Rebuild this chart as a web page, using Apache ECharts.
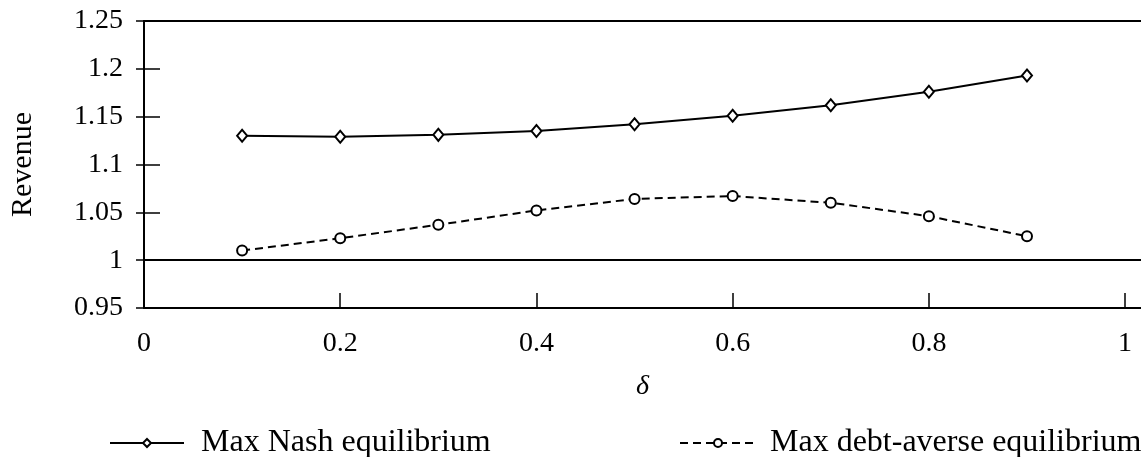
<!DOCTYPE html>
<html>
<head>
<meta charset="utf-8">
<script src="https://cdn.jsdelivr.net/npm/echarts@6/dist/echarts.min.js"></script>
<style>
html,body{margin:0;padding:0;background:#fff;}
#chart{width:1141px;height:457px;}
</style>
</head>
<body>
<div id="chart"></div>
<script>
const deltas = [0.1, 0.2, 0.3, 0.4, 0.5, 0.6, 0.7, 0.8, 0.9];
const nashRevenue = [1.130, 1.129, 1.131, 1.135, 1.142, 1.151, 1.162, 1.176, 1.193];
const debtAverseRevenue = [1.010, 1.023, 1.037, 1.052, 1.064, 1.067, 1.060, 1.046, 1.025];
const seriesNames = ['Max Nash equilibrium', 'Max debt-averse equilibrium'];
const referenceLevel = 1;

const FONT = 'Liberation Serif';
const chart = echarts.init(document.getElementById('chart'), null, {renderer: 'canvas'});

function pairs(xs, ys) { return xs.map((x, i) => [x, ys[i]]); }
function fmt(v) { return String(parseFloat(Number(v).toFixed(3))); }

const X_MAX = 1.0162;

chart.setOption({
  animation: false,
  backgroundColor: '#fff',
  grid: {left: 140, right: 0, top: 21, bottom: 149, containLabel: false},
  xAxis: [{
    type: 'value', min: 0, max: X_MAX, interval: 0.2, position: 'bottom',
    name: 'δ', nameLocation: 'middle', nameGap: 65,
    nameTextStyle: {fontFamily: FONT, fontSize: 28, fontStyle: 'italic', color: '#000'},
    axisLine: {show: true, onZero: false, lineStyle: {color: '#000', width: 2}},
    axisTick: {show: true, inside: true, length: 15, lineStyle: {color: '#000', width: 1.5}},
    axisLabel: {show: true, margin: 22, showMaxLabel: false, formatter: fmt,
      fontFamily: FONT, fontSize: 28, color: '#000'},
    splitLine: {show: false}
  }, {
    type: 'value', min: 0, max: X_MAX, interval: 0.2, position: 'top',
    axisLine: {show: true, onZero: false, lineStyle: {color: '#000', width: 2}},
    axisTick: {show: false}, axisLabel: {show: false}, splitLine: {show: false}
  }],
  yAxis: [{
    type: 'value', min: 0.95, max: 1.25, interval: 0.05, position: 'left',
    name: 'Revenue', nameLocation: 'middle', nameGap: 106,
    nameTextStyle: {fontFamily: FONT, fontSize: 30, color: '#000'},
    axisLine: {show: true, onZero: false, lineStyle: {color: '#000', width: 2}},
    axisTick: {show: true, inside: true, length: 16, lineStyle: {color: '#000', width: 1.5}},
    axisLabel: {show: true, margin: 21, formatter: fmt,
      fontFamily: FONT, fontSize: 28, color: '#000'},
    splitLine: {show: false}
  }, {
    type: 'value', min: 0.95, max: 1.25, interval: 0.05, position: 'right',
    axisLine: {show: false},
    axisTick: {show: true, inside: true, length: 8, lineStyle: {color: '#000', width: 1.5}},
    axisLabel: {show: false}, splitLine: {show: false}
  }],
  legend: [{
    data: [seriesNames[0]], left: 109, top: 427, padding: 0, itemWidth: 74, itemHeight: 10,
    textStyle: {fontFamily: FONT, fontSize: 32, color: '#000', padding: [0, 0, 0, 12]}
  }, {
    data: [seriesNames[1]], left: 679, top: 427, padding: 0, itemWidth: 76, itemHeight: 10,
    textStyle: {fontFamily: FONT, fontSize: 32, color: '#000', padding: [0, 0, 0, 9]}
  }],
  series: [{
    name: seriesNames[0], type: 'line', data: pairs(deltas, nashRevenue),
    xAxisIndex: 0, yAxisIndex: 0,
    symbol: 'emptyDiamond', symbolSize: [10, 12], showAllSymbol: true,
    lineStyle: {color: '#000', width: 2, type: 'solid'},
    itemStyle: {color: '#000', borderColor: '#000', borderWidth: 2},
    markLine: {
      silent: true, symbol: ['none', 'none'], label: {show: false},
      lineStyle: {color: '#000', width: 2, type: 'solid'},
      data: [{yAxis: referenceLevel}]
    }
  }, {
    name: seriesNames[1], type: 'line', data: pairs(deltas, debtAverseRevenue),
    xAxisIndex: 0, yAxisIndex: 0,
    symbol: 'emptyCircle', symbolSize: 10, showAllSymbol: true,
    lineStyle: {color: '#000', width: 2, type: [8, 5]},
    itemStyle: {color: '#000', borderColor: '#000', borderWidth: 2}
  }]
});
</script>
</body>
</html>
